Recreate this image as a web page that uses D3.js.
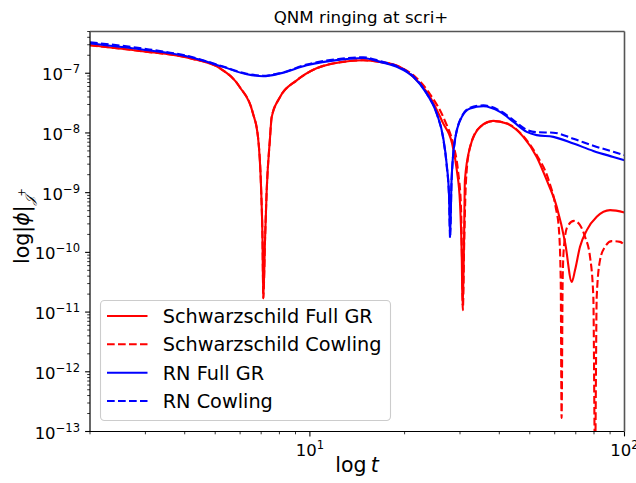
<!DOCTYPE html>
<html>
<head>
<meta charset="utf-8">
<script src="https://cdn.jsdelivr.net/npm/d3@7"></script>
<style>
  html, body { margin: 0; padding: 0; background: #fff; }
  svg { display: block; font-family: "DejaVu Sans", sans-serif; }
</style>
</head>
<body>
<svg id="chart" width="636" height="483"></svg>
<script>
// ---------------- data ----------------
const title = "QNM ringing at scri+";
const xTickLabels = [{v: 10, e: "1"}, {v: 100, e: "2"}];
const yTickExps = [-13, -12, -11, -10, -9, -8, -7];
const seriesNames = ["Schwarzschild Full GR", "Schwarzschild Cowling", "RN Full GR", "RN Cowling"];

const tSchwFull = [2.0, 2.88, 4.16, 5.18, 5.99, 6.59, 6.84, 7.0, 7.07, 7.11, 7.20, 7.29, 7.46, 7.56, 8.03, 9.08, 10.5, 12.5, 14.76, 16.7, 19.3, 21.3, 24.1, 26.5, 28.3, 29.3, 30.0, 30.4, 30.55, 30.9, 31.1, 32.3, 34.75, 38.3, 42.2, 47.7, 52.6, 56.6, 60.9, 64.8, 68.0, 69.6, 72.2, 75.9, 81.6, 90.0, 100];
const vSchwFull = [2.94e-7, 2.36e-7, 1.78e-7, 1.21e-7, 5.83e-8, 2.14e-8, 8.5e-9, 1.1e-9, 1.6e-10, 1.7e-11, 1.6e-10, 1.1e-9, 7.6e-9, 1.84e-8, 3.96e-8, 7.6e-8, 1.21e-7, 1.53e-7, 1.65e-7, 1.55e-7, 1.28e-7, 8.7e-8, 4.0e-8, 1.46e-8, 6.7e-9, 2.4e-9, 6.7e-10, 7.4e-11, 1.3e-11, 1.6e-10, 1.62e-9, 5.8e-9, 1.26e-8, 1.59e-8, 1.44e-8, 8.6e-9, 3.97e-9, 1.62e-9, 5.8e-10, 1.43e-10, 3.2e-11, 5.0e-11, 1.24e-10, 2.36e-10, 3.94e-10, 5.1e-10, 4.67e-10];

const tSchwCow = [2.0, 2.88, 4.16, 5.18, 5.99, 6.59, 6.84, 7.0, 7.07, 7.11, 7.20, 7.29, 7.46, 7.56, 8.03, 9.08, 10.5, 12.5, 14.76, 16.7, 19.3, 21.3, 24.1, 26.9, 28.5, 29.6, 30.2, 30.45, 30.63, 30.95, 31.35, 32.3, 34.75, 38.3, 42.2, 47.7, 52.6, 57.4, 60.4, 61.9, 62.7, 63.1, 63.6, 64.2, 65.8, 69.1, 72.2, 74.9, 77.7, 79.6, 80.6, 81.6, 83.6, 86.7, 91.1, 96.8, 100];
const vSchwCow = [2.94e-7, 2.36e-7, 1.78e-7, 1.21e-7, 5.83e-8, 2.14e-8, 8.5e-9, 1.1e-9, 1.6e-10, 1.7e-11, 1.6e-10, 1.1e-9, 7.6e-9, 1.84e-8, 3.96e-8, 7.6e-8, 1.21e-7, 1.53e-7, 1.65e-7, 1.55e-7, 1.28e-7, 9.3e-8, 4.45e-8, 1.57e-8, 6.7e-9, 2.2e-9, 6.2e-10, 7.4e-11, 1.08e-11, 1.6e-10, 1.62e-9, 5.8e-9, 1.26e-8, 1.57e-8, 1.45e-8, 8.8e-9, 4.25e-9, 1.62e-9, 5.8e-10, 2.36e-10, 3.4e-11, 1.68e-13, 3.4e-11, 1.24e-10, 2.68e-10, 3.37e-10, 2.86e-10, 1.82e-10, 8.4e-11, 1.8e-11, 3e-14, 1.8e-11, 7.4e-11, 1.24e-10, 1.54e-10, 1.5e-10, 1.32e-10];

const tRNFull = [2.0, 2.88, 4.16, 5.29, 6.30, 7.11, 8.03, 9.77, 12.5, 14.76, 16.7, 18.9, 21.3, 23.5, 25.3, 26.5, 27.2, 27.7, 27.9, 28.2, 28.9, 30.4, 32.3, 35.6, 40.2, 44.4, 48.9, 52.6, 59.4, 68.8, 79.6, 92.1, 100];
const vRNFull = [3.14e-7, 2.52e-7, 1.87e-7, 1.28e-7, 9.6e-8, 8.9e-8, 9.9e-8, 1.36e-7, 1.69e-7, 1.8e-7, 1.55e-7, 1.28e-7, 8.7e-8, 4.57e-8, 2.12e-8, 8.6e-9, 3.08e-9, 8.5e-10, 1.82e-10, 1.62e-9, 7.6e-9, 1.86e-8, 2.57e-8, 2.8e-8, 2.25e-8, 1.53e-8, 1.04e-8, 9.2e-9, 8.6e-9, 6.65e-9, 5.0e-9, 3.97e-9, 3.5e-9];

const tRNCow = [2.0, 2.88, 4.16, 5.29, 6.30, 7.11, 8.03, 9.77, 12.5, 14.76, 16.7, 18.9, 21.3, 23.5, 25.3, 26.5, 27.2, 27.7, 27.9, 28.2, 28.9, 30.4, 32.3, 35.6, 40.2, 44.4, 48.9, 52.6, 59.4, 68.8, 79.6, 92.1, 100];
const vRNCow = [3.3e-7, 2.63e-7, 1.9e-7, 1.3e-7, 9.8e-8, 9.1e-8, 1.0e-7, 1.4e-7, 1.74e-7, 1.85e-7, 1.6e-7, 1.31e-7, 8.9e-8, 4.6e-8, 2.1e-8, 8.3e-9, 2.9e-9, 8.1e-10, 1.75e-10, 1.5e-9, 7.3e-9, 1.9e-8, 2.65e-8, 2.9e-8, 2.35e-8, 1.63e-8, 1.13e-8, 1.03e-8, 1.01e-8, 8.0e-9, 6.1e-9, 4.85e-9, 4.25e-9];

const seriesT = [tSchwFull, tSchwCow, tRNFull, tRNCow];
const seriesV = [vSchwFull, vSchwCow, vRNFull, vRNCow];
const seriesColor = ["#ff0000", "#ff0000", "#0000ff", "#0000ff"];
const seriesDash = [null, "7.7,3.3", null, "7.7,3.3"];

// ---------------- layout ----------------
const L = 90, R = 624.5, T = 31.5, B = 431.5;
const svg = d3.select("#chart");
const x = d3.scaleLog().domain([2, 100]).range([L, R]);
const y = d3.scaleLog().domain([1e-13, 5e-7]).range([B, T]);

svg.append("defs").append("clipPath").attr("id", "clip")
  .append("rect").attr("x", L).attr("y", T).attr("width", R - L).attr("height", B - T);

// curves
const line = d3.line().x(d => x(d[0])).y(d => y(d[1])).curve(d3.curveMonotoneX);
const gLines = svg.append("g").attr("clip-path", "url(#clip)");
seriesT.forEach((ts, i) => {
  const pts = ts.map((t, j) => [t, seriesV[i][j]]);
  gLines.append("path").datum(pts)
    .attr("d", line)
    .attr("fill", "none")
    .attr("stroke", seriesColor[i])
    .attr("stroke-width", 2.1)
    .attr("stroke-linejoin", "round")
    .attr("stroke-dasharray", seriesDash[i]);
});

// ticks
const gAx = svg.append("g");
x.ticks().forEach(v => {
  const m = Math.abs(Math.log10(v) - Math.round(Math.log10(v))) < 1e-9;
  const px = x(v);
  gAx.append("line").attr("x1", px).attr("x2", px).attr("y1", B).attr("y2", B + (m ? 4.9 : 2.8))
    .attr("stroke", "#000").attr("stroke-width", m ? 1.1 : 0.8);
});
y.ticks().forEach(v => {
  const m = Math.abs(Math.log10(v) - Math.round(Math.log10(v))) < 1e-9;
  const py = y(v);
  gAx.append("line").attr("x1", L).attr("x2", L - (m ? 4.9 : 2.8)).attr("y1", py).attr("y2", py)
    .attr("stroke", "#000").attr("stroke-width", m ? 1.1 : 0.8);
});

// tick labels
const tickFont = 16.5;
xTickLabels.forEach(d => {
  const t = gAx.append("text").attr("x", x(d.v)).attr("y", B + 24.5)
    .attr("text-anchor", "middle").attr("font-size", tickFont).attr("fill", "#000");
  t.append("tspan").text("10");
  t.append("tspan").attr("dy", -7).attr("font-size", tickFont * 0.7).text(d.e);
});
yTickExps.forEach(e => {
  const t = gAx.append("text").attr("x", L - 10).attr("y", y(Math.pow(10, e)) + 7)
    .attr("text-anchor", "end").attr("font-size", tickFont).attr("fill", "#000");
  t.append("tspan").text("10");
  t.append("tspan").attr("dy", -7).attr("font-size", tickFont * 0.7).text("\u2212" + Math.abs(e));
});

// spines
svg.append("line").attr("x1", L).attr("x2", L).attr("y1", T).attr("y2", B).attr("stroke", "#000").attr("stroke-width", 1.2);
svg.append("line").attr("x1", L).attr("x2", R).attr("y1", B).attr("y2", B).attr("stroke", "#000").attr("stroke-width", 1.2);
svg.append("line").attr("x1", L).attr("x2", R).attr("y1", T).attr("y2", T).attr("stroke", "#555").attr("stroke-width", 1.6);
svg.append("line").attr("x1", R).attr("x2", R).attr("y1", T).attr("y2", B).attr("stroke", "#555").attr("stroke-width", 1.6);

// title
svg.append("text").attr("x", 361).attr("y", 23).attr("text-anchor", "middle")
  .attr("font-size", 16.7).attr("fill", "#000").text(title);

// x label
const xl = svg.append("text").attr("x", 357).attr("y", 472).attr("text-anchor", "middle")
  .attr("font-size", 20.5).attr("fill", "#000");
xl.append("tspan").text("log\u2009");
xl.append("tspan").attr("font-style", "italic").text("t");

// y label
const yl = svg.append("text").attr("transform", "translate(29,226) rotate(-90)")
  .attr("text-anchor", "middle").attr("font-size", 20.5).attr("fill", "#000");
yl.append("tspan").text("log|");
yl.append("tspan").attr("font-style", "italic").text("\u03d5");
yl.append("tspan").text("|");
yl.append("tspan").attr("dy", 5).attr("font-size", 13).attr("font-style", "italic").text("\ud835\udca5");
yl.append("tspan").attr("dy", -9).attr("font-size", 10).text("+");

// legend
const lg = svg.append("g");
lg.append("rect").attr("x", 100.5).attr("y", 300.5).attr("width", 290).attr("height", 120)
  .attr("rx", 4).attr("fill", "#fff").attr("fill-opacity", 0.8)
  .attr("stroke", "#cccccc").attr("stroke-width", 1.1);
const rowY = [316, 344.3, 372.7, 401];
seriesNames.forEach((n, i) => {
  lg.append("line").attr("x1", 107).attr("x2", 147.5).attr("y1", rowY[i]).attr("y2", rowY[i])
    .attr("stroke", seriesColor[i]).attr("stroke-width", 2.1).attr("stroke-dasharray", seriesDash[i]);
  lg.append("text").attr("x", 162.7).attr("y", rowY[i] + 7).attr("font-size", 19.3)
    .attr("fill", "#000").text(n);
});
</script>
</body>
</html>
